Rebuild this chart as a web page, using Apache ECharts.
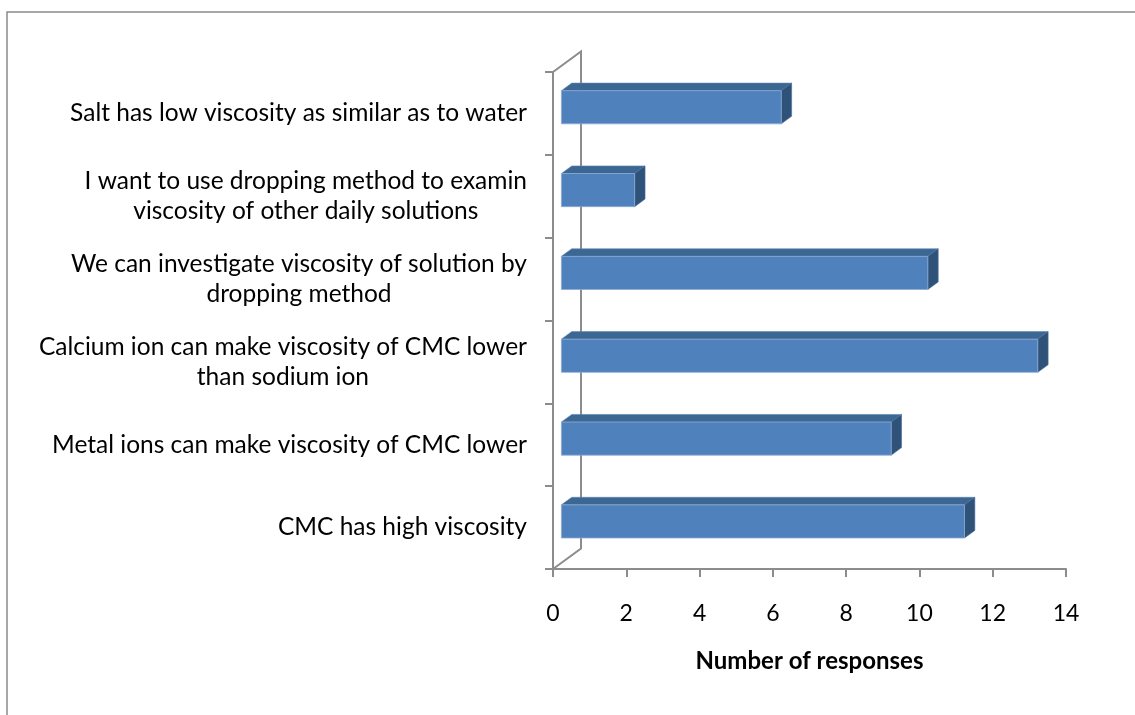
<!DOCTYPE html>
<html>
<head>
<meta charset="utf-8">
<script src="https://cdn.jsdelivr.net/npm/echarts@6/dist/echarts.min.js"></script>
<style>
  html, body { margin: 0; padding: 0; background: #fff; }
  #chart { width: 1135px; height: 715px; }
</style>
</head>
<body>
<div id="chart"></div>
<script>
// Survey statements, listed bottom to top as they appear on the category axis
const categories = [
  'CMC has high viscosity',
  'Metal ions can make viscosity of CMC lower',
  'Calcium ion can make viscosity of CMC lower\nthan sodium ion',
  'We can investigate viscosity of solution by\ndropping method',
  'I want to use dropping method to examin\nviscosity of other daily solutions',
  'Salt has low viscosity as similar as to water'
];
// Number of responses for each statement
const responses = [11, 9, 13, 10, 2, 6];
// Value axis ticks
const xMin = 0, xMax = 14, xStep = 2;
const axisTitle = 'Number of responses';

// Pseudo-3D look: depth direction of the plot box and where the bars sit in it
const DEPTH_X = 28, DEPTH_Y = -20.5;
const FRONT = 0.3, BACK = 0.67;
const BAR_FRACTION = 0.4;
const FONT = 'Lato';
const LABEL_SIZE = 24.5;
const TICK_SIZE = 23;
const TITLE_SIZE = 24;
const AXIS_GREY = '#8c8c8c';

const measureCtx = document.createElement('canvas').getContext('2d');
function blockWidth(text, size, weight) {
  measureCtx.font = (weight || 'normal') + ' ' + size + 'px ' + FONT;
  return Math.max.apply(null, text.split('\n').map(l => measureCtx.measureText(l).width));
}

const chart = echarts.init(document.getElementById('chart'), null, { renderer: 'canvas' });

function renderWall(params, api) {
  const n = categories.length;
  const band = api.size([0, 1])[1];
  const top = api.coord([0, n - 1]);
  const bot = api.coord([0, 0]);
  const x = top[0];
  const yTop = top[1] - band / 2;
  const yBot = bot[1] + band / 2;
  return {
    type: 'polyline',
    shape: {
      points: [
        [x, yTop], [x + DEPTH_X, yTop + DEPTH_Y],
        [x + DEPTH_X, yBot + DEPTH_Y], [x, yBot]
      ]
    },
    style: { stroke: AXIS_GREY, lineWidth: 2, fill: null }
  };
}

function renderBar(params, api) {
  const v = api.value(0), c = api.value(1);
  const p0 = api.coord([0, c]);
  const p1 = api.coord([v, c]);
  const band = api.size([0, 1])[1];
  const h = band * BAR_FRACTION;
  const fx = DEPTH_X * FRONT, fy = DEPTH_Y * FRONT;
  const bx = DEPTH_X * BACK, by = DEPTH_Y * BACK;
  const x0 = p0[0], x1 = p1[0];
  const yT = p0[1] - h / 2, yB = p0[1] + h / 2;
  return {
    type: 'group',
    children: [
      { // top face
        type: 'polygon',
        shape: { points: [[x0 + fx, yT + fy], [x1 + fx, yT + fy], [x1 + bx, yT + by], [x0 + bx, yT + by]] },
        style: { fill: '#3d6793', stroke: '#5d83b3', lineWidth: 0.6 }
      },
      { // right side face
        type: 'polygon',
        shape: { points: [[x1 + fx, yT + fy], [x1 + bx, yT + by], [x1 + bx, yB + by], [x1 + fx, yB + fy]] },
        style: { fill: '#2f5279', stroke: '#4a6d98', lineWidth: 0.6 }
      },
      { // front face
        type: 'rect',
        shape: { x: x0 + fx, y: yT + fy, width: x1 - x0, height: h },
        style: { fill: '#4f81bd', stroke: '#8eaad3', lineWidth: 0.8 }
      }
    ]
  };
}

function renderLabel(params, api) {
  const c = api.value(1);
  const p = api.coord([0, c]);
  const text = categories[c];
  const w = blockWidth(text, LABEL_SIZE);
  return {
    type: 'text',
    style: {
      text: text,
      x: p[0] - 26 - w / 2,
      y: p[1],
      align: 'center',
      verticalAlign: 'middle',
      fontFamily: FONT,
      fontSize: LABEL_SIZE,
      lineHeight: 30,
      fill: '#000'
    }
  };
}

const barData = responses.map((v, i) => [v, i]);

chart.setOption({
  animation: false,
  backgroundColor: '#fff',
  graphic: [{
    type: 'rect',
    shape: { x: 7, y: 12, width: 1200, height: 800 },
    style: { fill: null, stroke: '#8a8a8a', lineWidth: 1.5 },
    silent: true
  }],
  grid: { left: 553, right: 69, top: 72, bottom: 146, containLabel: false },
  xAxis: {
    type: 'value',
    min: xMin, max: xMax, interval: xStep,
    splitLine: { show: false },
    axisLine: { show: true, lineStyle: { color: AXIS_GREY, width: 2 } },
    axisTick: { show: true, length: 8, lineStyle: { color: AXIS_GREY, width: 2 } },
    axisLabel: { margin: 33, fontFamily: FONT, fontSize: TICK_SIZE, color: '#000' },
    name: axisTitle,
    nameLocation: 'middle',
    nameGap: 80,
    nameTextStyle: { fontFamily: FONT, fontSize: TITLE_SIZE, fontWeight: 'bold', color: '#000', verticalAlign: 'top' }
  },
  yAxis: {
    type: 'category',
    data: categories,
    boundaryGap: true,
    axisLine: { show: true, lineStyle: { color: AXIS_GREY, width: 2 } },
    axisTick: { show: true, length: 8, lineStyle: { color: AXIS_GREY, width: 2 } },
    axisLabel: { show: false },
    splitLine: { show: false }
  },
  series: [
    {
      type: 'custom', name: 'wall', renderItem: renderWall,
      data: [[0, 0]], encode: { x: 0, y: 1 }, z: 1, silent: true
    },
    {
      type: 'custom', name: 'Responses', renderItem: renderBar,
      data: barData, encode: { x: 0, y: 1 }, z: 3
    },
    {
      type: 'custom', name: 'labels', renderItem: renderLabel,
      data: barData, encode: { x: 0, y: 1 }, z: 4, silent: true, clip: false
    }
  ]
});
</script>
</body>
</html>
